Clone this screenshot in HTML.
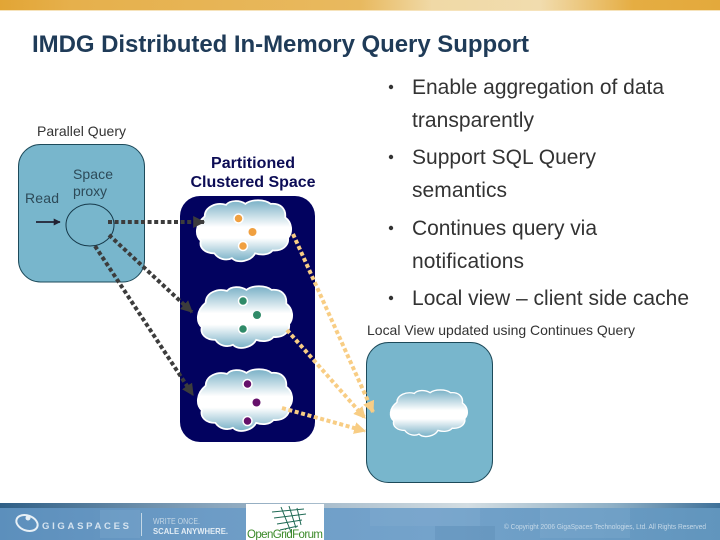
<!DOCTYPE html>
<html>
<head>
<meta charset="utf-8">
<style>
html,body{margin:0;padding:0;background:#fff;width:720px;height:540px;overflow:hidden}
svg{display:block}
text{font-family:"Liberation Sans",sans-serif}
</style>
</head>
<body>
<svg width="720" height="540" viewBox="0 0 720 540" xmlns="http://www.w3.org/2000/svg">
<defs>
<linearGradient id="top" x1="0" x2="1" y1="0" y2="0">
<stop offset="0" stop-color="#e2a535"/><stop offset=".1" stop-color="#e6b04c"/><stop offset=".5" stop-color="#e8b95f"/><stop offset=".6" stop-color="#f0d9a6"/><stop offset=".75" stop-color="#f1dcae"/><stop offset=".88" stop-color="#e5ad42"/><stop offset="1" stop-color="#e3a93c"/>
</linearGradient>
<linearGradient id="ftop" x1="0" x2="1" y1="0" y2="0">
<stop offset="0" stop-color="#2f5f86"/><stop offset=".3" stop-color="#8aa6bd"/><stop offset=".65" stop-color="#d3dde2"/><stop offset=".85" stop-color="#8fb0c6"/><stop offset="1" stop-color="#3f7199"/>
</linearGradient>
<linearGradient id="fbg" x1="0" x2="1" y1="0" y2="0">
<stop offset="0" stop-color="#5c8fbc"/><stop offset=".3" stop-color="#6d9cc6"/><stop offset=".6" stop-color="#74a3cb"/><stop offset="1" stop-color="#6195bd"/>
</linearGradient>
<linearGradient id="cl" x1="0" x2="0" y1="0" y2="1">
<stop offset="0" stop-color="#78b0c6"/><stop offset=".44" stop-color="#ffffff"/><stop offset=".62" stop-color="#ffffff"/><stop offset="1" stop-color="#78b0c6"/>
</linearGradient>
<path id="cloud" fill="url(#cl)" stroke="#fff" stroke-width="1.800" d="M10 18C10 8 22 3 32 6C36 1 46 1 52 5C58 0 72 0 78 5C88 4 94 10 93 19C100 24 101 34 96 40C97 48 90 54 80 53C76 58 68 58 62 56C58 64 44 67 38 61C32 64 24 62 20 56C10 56 4 50 6 43C0 38 0 26 10 18Z"/>
<marker id="ad" viewBox="0 0 10 10" refX="9" refY="5" markerWidth="12" markerHeight="12" markerUnits="userSpaceOnUse" orient="auto"><path d="M0 0L10 5L0 10Z" fill="#3c3c3c"/></marker>
<marker id="ao" viewBox="0 0 10 10" refX="9" refY="5" markerWidth="12" markerHeight="12" markerUnits="userSpaceOnUse" orient="auto"><path d="M0 0L10 5L0 10Z" fill="#f8cd84"/></marker>
<marker id="ab" viewBox="0 0 10 10" refX="9" refY="5" markerWidth="7" markerHeight="7" markerUnits="userSpaceOnUse" orient="auto"><path d="M0 0L10 5L0 10Z" fill="#223"/></marker>
</defs>

<rect x="0" y="0" width="720" height="10" fill="url(#top)"/>
<rect x="0" y="10" width="720" height="1" fill="#f6e3bb"/>

<text x="32" y="52" font-size="24" font-weight="bold" fill="#1f3b58" textLength="497" lengthAdjust="spacing">IMDG Distributed In-Memory Query Support</text>

<g font-size="21" fill="#333333">
<circle cx="391" cy="87" r="2.200" fill="#333"/>
<text x="412" y="94" textLength="252" lengthAdjust="spacing">Enable aggregation of data</text>
<text x="412" y="127" textLength="122" lengthAdjust="spacing">transparently</text>
<circle cx="391" cy="157" r="2.200" fill="#333"/>
<text x="412" y="164" textLength="184" lengthAdjust="spacing">Support SQL Query</text>
<text x="412" y="197" textLength="95" lengthAdjust="spacing">semantics</text>
<circle cx="391" cy="228" r="2.200" fill="#333"/>
<text x="412" y="235" textLength="185" lengthAdjust="spacing">Continues query via</text>
<text x="412" y="268" textLength="112" lengthAdjust="spacing">notifications</text>
<circle cx="391" cy="298" r="2.200" fill="#333"/>
<text x="412" y="305" textLength="277" lengthAdjust="spacing">Local view – client side cache</text>
</g>

<text x="37" y="136" font-size="14" fill="#333" textLength="89" lengthAdjust="spacing">Parallel Query</text>
<text x="367" y="335" font-size="14" fill="#333" textLength="268" lengthAdjust="spacing">Local View updated using Continues Query</text>

<rect x="18.500" y="144.500" width="126" height="137.500" rx="22" fill="#78b6cc" stroke="#1d4a5a"/>
<text x="73" y="179" font-size="14" fill="#2d4a58" textLength="40" lengthAdjust="spacing">Space</text>
<text x="73" y="196" font-size="14" fill="#2d4a58" textLength="34" lengthAdjust="spacing">proxy</text>
<text x="25" y="203" font-size="14" fill="#2d4a58" textLength="34" lengthAdjust="spacing">Read</text>
<ellipse cx="90" cy="225" rx="24" ry="21" fill="#78b6cc" stroke="#16394a"/>
<line x1="36" y1="222" x2="60" y2="222" stroke="#223" stroke-width="1.800" marker-end="url(#ab)"/>

<text x="253" y="168" font-size="16" font-weight="bold" fill="#0c0c55" text-anchor="middle" textLength="84" lengthAdjust="spacing">Partitioned</text>
<text x="253" y="187" font-size="16" font-weight="bold" fill="#0c0c55" text-anchor="middle" textLength="125" lengthAdjust="spacing">Clustered Space</text>

<rect x="180" y="196" width="135" height="246" rx="20" fill="#02025f"/>

<use href="#cloud" transform="translate(195,199) scale(0.97,0.97)"/>
<use href="#cloud" transform="translate(196,285) scale(0.97,0.98)"/>
<use href="#cloud" transform="translate(196,368) scale(0.97,0.98)"/>

<g stroke="#fff" stroke-width="1.500">
<circle cx="238.500" cy="218.500" r="4.500" fill="#f0a040"/>
<circle cx="252.500" cy="232" r="4" fill="#f0a040" stroke="none"/>
<circle cx="243" cy="246" r="4.500" fill="#f0a040"/>
<circle cx="243" cy="301" r="4.500" fill="#2f8a68"/>
<circle cx="257" cy="315" r="4" fill="#2f8a68" stroke="none"/>
<circle cx="243" cy="329" r="4.500" fill="#2f8a68"/>
<circle cx="247.500" cy="384" r="4.500" fill="#65106a"/>
<circle cx="256.500" cy="402.500" r="4" fill="#65106a" stroke="none"/>
<circle cx="247.500" cy="421" r="4.500" fill="#65106a"/>
</g>

<rect x="366.500" y="342.500" width="126" height="140" rx="22" fill="#78b6cc" stroke="#1d4a5a"/>
<use href="#cloud" transform="translate(389,389) scale(0.79,0.74)"/>

<g fill="none" stroke="#3c3c3c" stroke-width="4" stroke-dasharray="4 2.600">
<line x1="108" y1="222" x2="204" y2="222" marker-end="url(#ad)"/>
<line x1="109" y1="235" x2="192" y2="312" marker-end="url(#ad)"/>
<line x1="95" y1="246" x2="193" y2="395" marker-end="url(#ad)"/>
</g>
<g fill="none" stroke="#f8cd84" stroke-width="4" stroke-dasharray="4 2.600">
<line x1="293" y1="234" x2="373" y2="412" marker-end="url(#ao)"/>
<line x1="287" y1="330" x2="365" y2="418" marker-end="url(#ao)"/>
<line x1="282" y1="408" x2="365" y2="431" marker-end="url(#ao)"/>
</g>

<rect x="0" y="503" width="720" height="37" fill="url(#fbg)"/>
<rect x="0" y="503" width="720" height="5" fill="url(#ftop)"/>
<g fill="#8fb4d6" opacity=".22">
<rect x="370" y="508" width="110" height="18"/><rect x="435" y="526" width="60" height="14" fill="#4f7fa8"/><rect x="540" y="508" width="90" height="30"/>
<rect x="100" y="510" width="40" height="28"/>
</g>

<g fill="none" stroke="#e8f0f6" stroke-width="2">
<ellipse cx="27" cy="523" rx="11" ry="7.500" transform="rotate(20 27 523)"/>
</g>
<circle cx="28" cy="518" r="2.500" fill="#e8f0f6"/>
<text x="42" y="529" font-size="9.500" font-weight="bold" fill="#d5e3ef" textLength="87" lengthAdjust="spacing">GIGASPACES</text>
<rect x="141" y="513" width="1" height="23" fill="#c4d7e6"/>
<text x="153" y="524" font-size="8.500" fill="#c4d7e6" textLength="47" lengthAdjust="spacingAndGlyphs">WRITE ONCE.</text>
<text x="153" y="534" font-size="8.500" font-weight="bold" fill="#e2ecf4" textLength="75" lengthAdjust="spacingAndGlyphs">SCALE ANYWHERE.</text>

<rect x="246" y="504" width="78" height="36" fill="#fff"/>
<g stroke="#1f6a55" stroke-width="1" fill="none">
<path d="M272 512L304 509M274 518L306 514M277 524L302 520M280 530L298 526"/>
<path d="M281 507L291 532M289 506L296 528M297 508L301 525"/>
</g>
<text x="247" y="538" font-size="11.500" fill="#3c8a2a" textLength="76" lengthAdjust="spacing">OpenGridForum</text>

<text x="504" y="529" font-size="7.500" fill="#c6d9e8" textLength="202" lengthAdjust="spacingAndGlyphs">© Copyright 2006 GigaSpaces Technologies, Ltd. All Rights Reserved</text>
</svg>
</body>
</html>
